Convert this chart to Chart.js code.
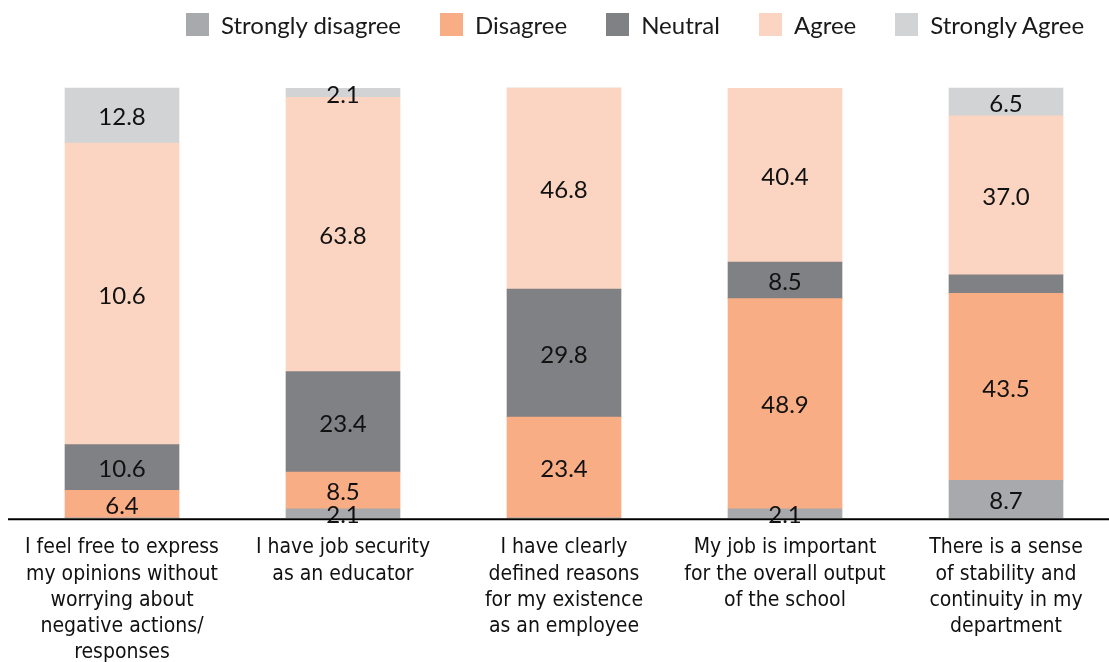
<!DOCTYPE html>
<html>
<head>
<meta charset="utf-8">
<script src="https://cdn.jsdelivr.net/npm/chart.js@4.4.1/dist/chart.umd.min.js"></script>
<style>
html, body { margin: 0; padding: 0; background: #fff; }
#wrap { position: relative; width: 1109px; height: 662px; overflow: hidden; }
#legenda { position: absolute; left: 186px; top: 10px; display: flex; gap: 39px; font: 24px Lato, sans-serif; color: #1a1a1a; line-height: 29px; }
.item { display: flex; align-items: center; gap: 12px; }
.caixa { width: 23px; height: 23px; }
</style>
</head>
<body>
<div id="wrap">
    <canvas id="grafico" width="1109" height="662"></canvas>
    <div id="legenda"></div>
</div>
<script>
const categorias = [
    ["I feel free to express", "my opinions without", "worrying about", "negative actions/", "responses"],
    ["I have job security", "as an educator"],
    ["I have clearly", "defined reasons", "for my existence", "as an employee"],
    ["My job is important", "for the overall output", "of the school"],
    ["There is a sense", "of stability and", "continuity in my", "department"]
]

const nomesSeries = ["Strongly disagree", "Disagree", "Neutral", "Agree", "Strongly Agree"]
const cores = ["#a7a9ac", "#f9ad84", "#808184", "#fbd5c1", "#d1d3d4"]

const stronglyDisagree = [0, 2.1, 0, 2.1, 8.7]
const disagree = [6.4, 8.5, 23.4, 48.9, 43.5]
const neutral = [10.6, 23.4, 29.8, 8.5, 4.3]
const agree = [70.2, 63.8, 46.8, 40.4, 37.0]
const stronglyAgree = [12.8, 2.1, 0, 0, 6.5]

// text printed on each segment (source prints 10.6 on the first Agree block)
const rotulosSD = ["", "2.1", "", "2.1", "8.7"]
const rotulosD = ["6.4", "8.5", "23.4", "48.9", "43.5"]
const rotulosN = ["10.6", "23.4", "29.8", "8.5", ""]
const rotulosA = ["10.6", "63.8", "46.8", "40.4", "37.0"]
const rotulosSA = ["12.8", "2.1", "", "", "6.5"]

const valores = [stronglyDisagree, disagree, neutral, agree, stronglyAgree]
const rotulos = [rotulosSD, rotulosD, rotulosN, rotulosA, rotulosSA]

const fonteTexto = "Lato, sans-serif"
const fonteEixo = "'Liberation Sans Narrow', 'DejaVu Sans Condensed', sans-serif"

const rotulosBarras = {
    id: "rotulosBarras",
    afterDatasetsDraw(chart){
        const ctx = chart.ctx
        ctx.save()
        ctx.font = `24px ${fonteTexto}`
        ctx.fillStyle = "#111"
        ctx.textAlign = "center"
        ctx.textBaseline = "middle"
        chart.data.datasets.forEach((ds, i) => {
            const meta = chart.getDatasetMeta(i)
            meta.data.forEach((el, j) => {
                const txt = rotulos[i][j]
                if(!txt){
                    return
                }
                const p = el.getProps(["x", "y", "base"], true)
                ctx.fillText(txt, p.x, (p.y + p.base) / 2 + 2)
            })
        })
        ctx.restore()
    }
}

const linhaEixo = {
    id: "linhaEixo",
    afterDraw(chart){
        const ctx = chart.ctx
        const y = chart.chartArea.bottom + 1.5
        ctx.save()
        ctx.strokeStyle = "#000"
        ctx.lineWidth = 2.2
        ctx.beginPath()
        ctx.moveTo(8, y)
        ctx.lineTo(chart.width, y)
        ctx.stroke()
        ctx.restore()
    }
}

const grafico = new Chart(document.getElementById("grafico"), {
    type: "bar",
    data: {
        labels: categorias,
        datasets: nomesSeries.map((nome, i) => ({
            label: nome,
            data: valores[i],
            backgroundColor: cores[i],
            barThickness: 114,
            borderWidth: 0,
            clip: false
        }))
    },
    options: {
        responsive: false,
        animation: false,
        events: [],
        layout: { padding: { top: 88, left: 122, right: 103, bottom: -13 } },
        plugins: {
            legend: { display: false },
            tooltip: { enabled: false }
        },
        scales: {
            x: {
                stacked: true,
                offset: false,
                grid: { display: false },
                border: { display: false },
                ticks: {
                    color: "#111",
                    padding: 9,
                    autoSkip: false,
                    maxRotation: 0,
                    font: { family: fonteEixo, size: 21, lineHeight: 1.25 }
                }
            },
            y: {
                stacked: true,
                display: false,
                min: 0,
                max: 100
            }
        }
    },
    plugins: [rotulosBarras, linhaEixo]
})

function montarLegenda(){
    const legenda = document.getElementById("legenda")
    legenda.innerHTML = grafico.data.datasets
        .map(ds => `<div class='item'><span class='caixa' style='background:${ds.backgroundColor}'></span><span>${ds.label}</span></div>`)
        .join("")
}

montarLegenda()
</script>
</body>
</html>
